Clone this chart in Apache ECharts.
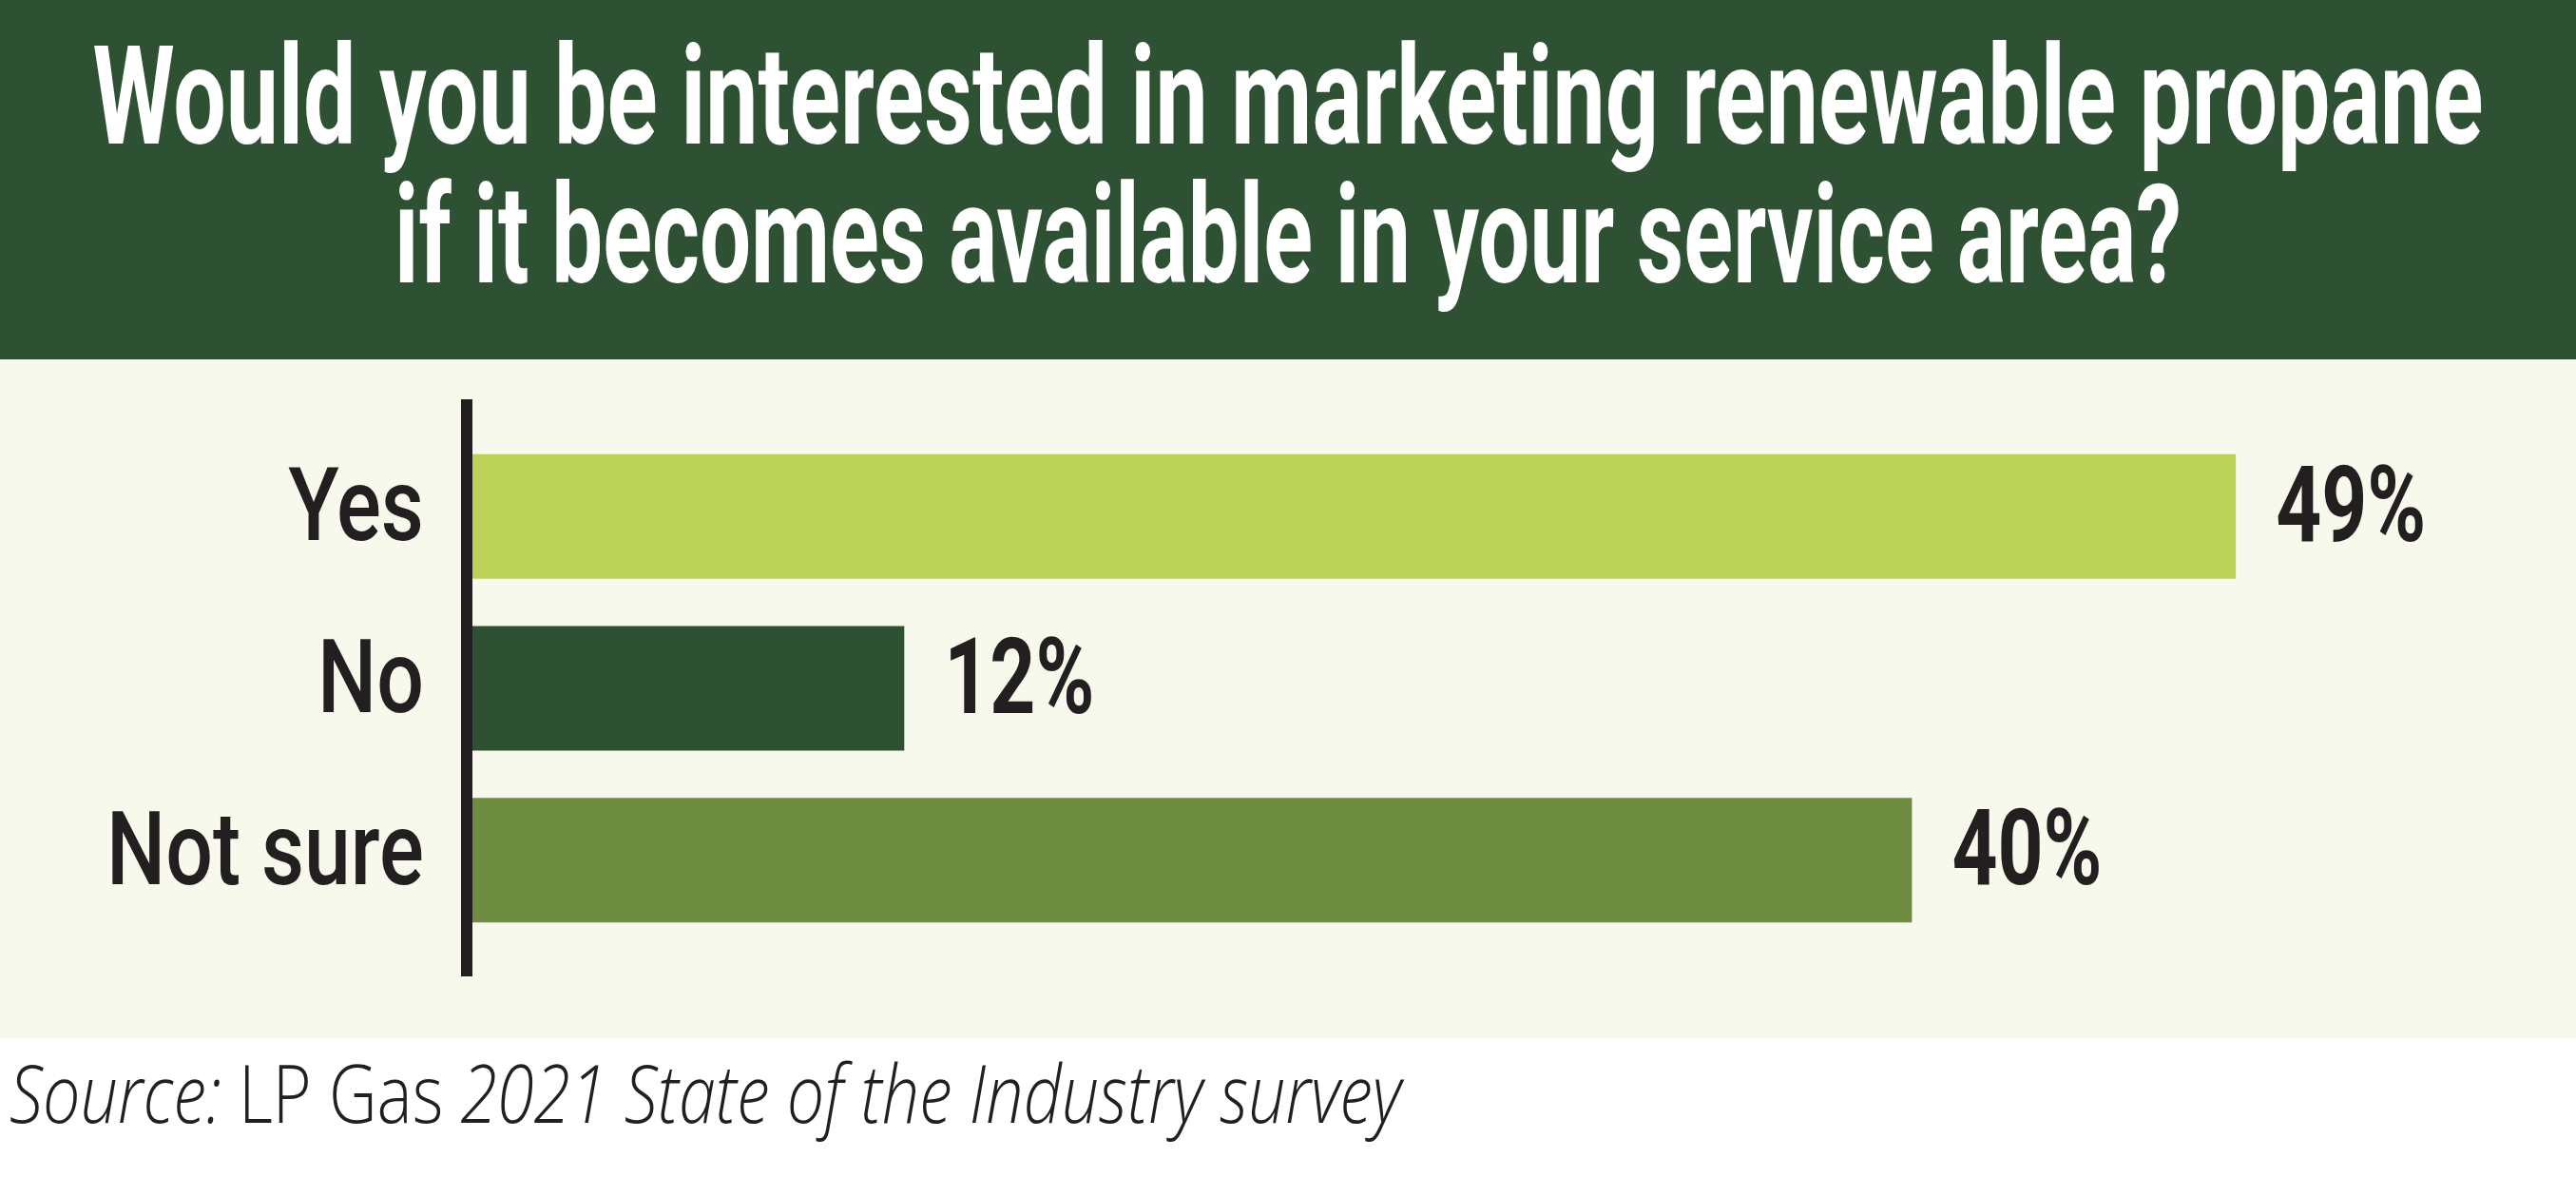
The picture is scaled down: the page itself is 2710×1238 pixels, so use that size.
<!DOCTYPE html>
<html><head><meta charset="utf-8">
<script src="https://cdn.jsdelivr.net/npm/echarts@6/dist/echarts.min.js"></script>
<style>html,body{margin:0;padding:0;background:#fff}#c{width:2710px;height:1238px}</style>
</head><body><div id="c"></div>
<script>
const categories = ['Yes', 'No', 'Not sure'];
const values = [49, 12, 40];
const barColors = ['#bcd257', '#2e5033', '#6e8d40'];
const titleLines = ['Would you be interested in marketing renewable propane', 'if it becomes available in your service area?'];
const sourceParts = [['Source: ', 'italic'], ['LP Gas ', 'normal'], ['2021 State of the Industry survey', 'italic']];

const cv = document.createElement('canvas').getContext('2d');
function tw(text, font) { cv.font = font; return cv.measureText(text).width; }

const W = 2710;
const ink = '#231f20';
const titleFont = 'bold 145px Roboto';
const titleTargets = [2515, 1880];
const titleY = [114.5, 261];
const srcFonts = { italic: 'italic 300 84px "Open Sans"', normal: '300 84px "Open Sans"' };
let srcTotal = 0;
sourceParts.forEach(p => srcTotal += tw(p[0], srcFonts[p[1]]));
const srcScale = 1464 / srcTotal;

const catFont = '500 108px Roboto';
const catScale = 334 / tw('Not sure', catFont);
const valFont = 'bold 111px Roboto';
const valScale = 158 / tw('49%', valFont);

const graphics = [
  { type: 'rect', shape: { x: 0, y: 0, width: W, height: 378 }, style: { fill: '#2e5033' }, z: 0 },
  { type: 'rect', shape: { x: 0, y: 378, width: W, height: 714 }, style: { fill: '#f7f9ec' }, z: 0 },
  { type: 'rect', shape: { x: 485, y: 420, width: 12, height: 607 }, style: { fill: ink }, z: 10 }
];
titleLines.forEach((t, i) => graphics.push({
  type: 'text', x: W / 2, y: titleY[i], scaleX: titleTargets[i] / tw(t, titleFont), z: 10,
  style: { text: t, font: titleFont, fill: '#ffffff', textAlign: 'center', textVerticalAlign: 'middle' }
}));
let sx = 10;
sourceParts.forEach(p => {
  graphics.push({
    type: 'text', x: sx, y: 1157, scaleX: srcScale, z: 10,
    style: { text: p[0], font: srcFonts[p[1]], fill: ink, textAlign: 'left', textVerticalAlign: 'middle' }
  });
  sx += tw(p[0], srcFonts[p[1]]) * srcScale;
});

const chart = echarts.init(document.getElementById('c'), null, { renderer: 'canvas' });
const option = {
  animation: false,
  backgroundColor: '#ffffff',
  graphic: graphics,
  grid: { left: 497, right: 320, top: 453, height: 542, containLabel: false },
  xAxis: { type: 'value', min: 0, max: 50, show: false },
  yAxis: {
    type: 'category', inverse: true, data: categories,
    axisLine: { show: false }, axisTick: { show: false }, splitLine: { show: false },
    axisLabel: { show: false }
  },
  series: [{
    type: 'bar', barWidth: 131, z: 5,
    data: values.map((v, i) => ({ value: v, itemStyle: { color: barColors[i] } })),
    label: { show: false }
  }]
};
chart.setOption(option);

// category and value labels, placed through the chart's own scales, condensed horizontally
categories.forEach((c, i) => {
  const p0 = chart.convertToPixel({ gridIndex: 0 }, [0, i]);
  const p1 = chart.convertToPixel({ gridIndex: 0 }, [values[i], i]);
  graphics.push({
    type: 'text', x: p0[0] - 51, y: p0[1] - 2, scaleX: catScale, z: 10,
    style: { text: c, font: catFont, fill: ink, textAlign: 'right', textVerticalAlign: 'middle' }
  });
  graphics.push({
    type: 'text', x: p1[0] + 42, y: p1[1] - 2, scaleX: valScale, z: 10,
    style: { text: values[i] + '%', font: valFont, fill: ink, textAlign: 'left', textVerticalAlign: 'middle' }
  });
});
chart.setOption({ graphic: graphics });
</script></body></html>
